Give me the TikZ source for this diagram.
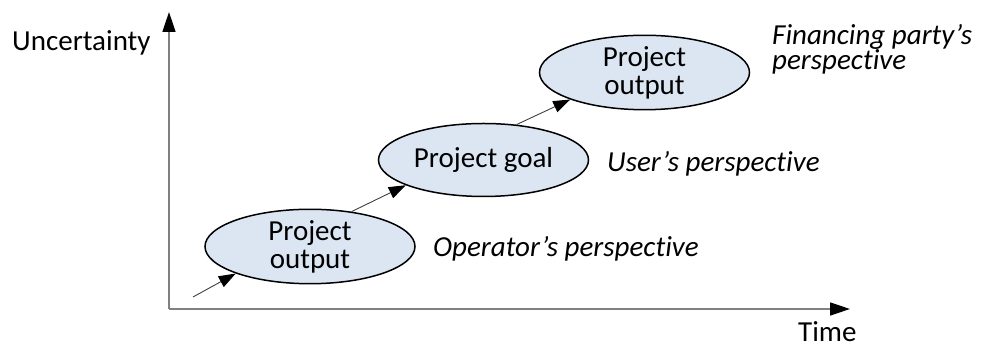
\documentclass[tikz,border=0pt]{standalone}
\usepackage{fontspec}
\setmainfont[Ligatures={NoCommon}]{Carlito}
\usetikzlibrary{arrows.meta,shapes.geometric}
\definecolor{ellfill}{HTML}{DCE6F2}
\definecolor{axisgray}{HTML}{808080}
\definecolor{linkgray}{HTML}{404040}
\begin{document}
\begin{tikzpicture}[x=1pt,y=1pt,
  txt/.style={font=\fontsize{29}{28}\selectfont, inner sep=0pt},
  lbl/.style={txt, font=\fontsize{29}{24}\selectfont\itshape, anchor=base west, align=left},
  stage/.style={ellipse, draw=black, line width=1.5pt, fill=ellfill,
    minimum width=210pt, minimum height=73pt, inner sep=0pt, align=center,
    font=\fontsize{29}{28}\selectfont},
  axis/.style={draw=axisgray, line width=1.6pt,
    -{Triangle[length=20pt,width=13pt,color=black,fill=black]}},
  link/.style={draw=linkgray, line width=0.9pt,
    -{Triangle[length=17pt,width=12pt,color=black,fill=black]}}]
\useasboundingbox (0,0) rectangle (983,347);

% axes
\coordinate (origin) at (169,38);
\coordinate (ytop) at (169,335);
\coordinate (xend) at (850,38);
\draw[axis] (origin) -- (ytop);
\draw[axis] (origin) -- (xend);
\node[txt, anchor=base west] (ylab) at (12,296) {Uncertainty};
\node[txt, anchor=base west] (xlab) at (798,5) {Time};

% stages
\node[stage] (e1) at (310,100.5) {Project\\output};
\node[stage] (e2) at (483.5,187) {Project goal};
\node[stage] (e3) at (644.5,274.5) {Project\\output};

% perspectives
\node[lbl] (p1) at (433,90) {Operator’s perspective};
\node[lbl] (p2) at (607,175) {User’s perspective};
\node[lbl] (p3) at (772,277) {Financing party’s\\perspective};

% progression
\coordinate (start) at (193,50);
\draw[link] (start) -- (e1.200);
\draw[link] (e1.40) -- (e2.198);
\draw[link] (e2.47) -- (e3.200);
\end{tikzpicture}
\end{document}
